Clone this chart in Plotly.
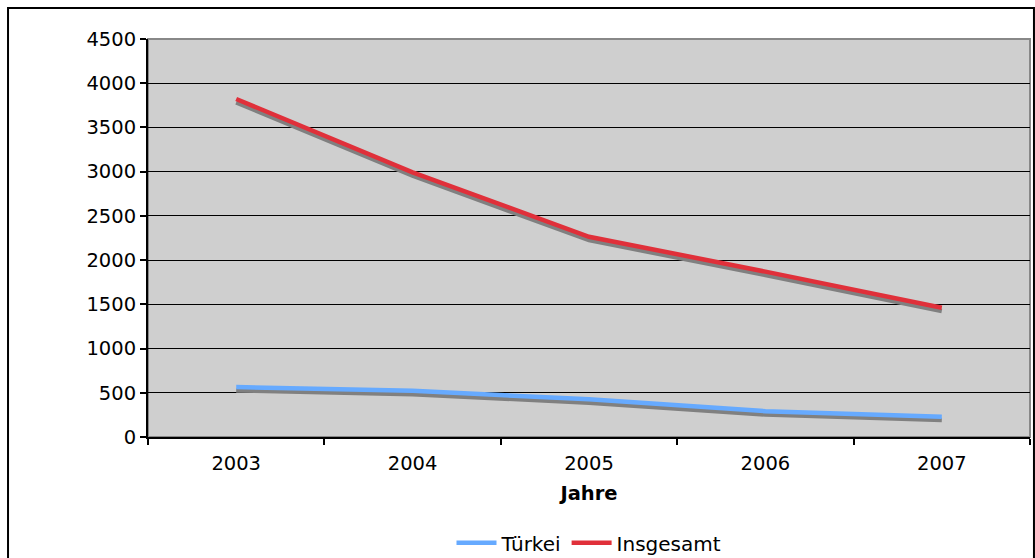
import plotly.graph_objects as go

years = ["2003", "2004", "2005", "2006", "2007"]
tuerkei = [565, 522, 426, 292, 230]
insgesamt = [3822, 2992, 2264, 1870, 1462]
y_ticks = [0, 500, 1000, 1500, 2000, 2500, 3000, 3500, 4000, 4500]

SHADOW = 38  # shadow offset (data units)
FONT = "DejaVu Sans, Verdana, sans-serif"

fig = go.Figure()
for name, vals, color in [("Türkei", tuerkei, "#66aaff"), ("Insgesamt", insgesamt, "#e0303a")]:
    fig.add_trace(go.Scatter(x=years, y=[v - SHADOW for v in vals], mode="lines",
                             line=dict(color="#808080", width=4.5), showlegend=False,
                             hoverinfo="skip"))
for name, vals, color in [("Türkei", tuerkei, "#66aaff"), ("Insgesamt", insgesamt, "#e0303a")]:
    fig.add_trace(go.Scatter(x=years, y=vals, mode="lines", name=name,
                             line=dict(color=color, width=4.5)))

fig.update_layout(
    width=1035, height=558,
    margin=dict(l=148, r=5, t=39, b=121, autoexpand=False),
    paper_bgcolor="white", plot_bgcolor="#cfcfcf",
    font=dict(family=FONT, size=19.5, color="black"),
    showlegend=True,
    legend=dict(orientation="h", x=0.5, xanchor="center", y=-0.266, yanchor="middle",
                font=dict(size=20), itemwidth=40, tracegroupgap=0, bgcolor="rgba(0,0,0,0)"),
    shapes=[
        dict(type="rect", xref="paper", yref="paper", x0=0, x1=1, y0=0, y1=1,
             line=dict(color="#888888", width=2), layer="below"),
        dict(type="rect", xref="paper", yref="paper", x0=-0.1587, x1=1.0045, y0=-0.31, y1=1.0779,
             line=dict(color="black", width=2), layer="above"),
    ],
)
fig.update_xaxes(type="category", tickson="boundaries", ticks="outside", ticklen=6,
                 tickcolor="black", tickwidth=1.5, showline=True, linecolor="black", linewidth=2,
                 showgrid=False, tickfont=dict(size=19.5), range=[-0.5, 4.5],
                 ticklabelstandoff=8,
                 title=dict(text="<b>Jahre</b>", font=dict(size=19.5), standoff=12))
fig.update_yaxes(range=[0, 4500], tickvals=y_ticks, ticks="outside", ticklen=6,
                 tickcolor="black", tickwidth=1.5, showline=True, linecolor="black", linewidth=2,
                 showgrid=True, gridcolor="black", gridwidth=1.3, zeroline=False,
                 tickfont=dict(size=19.5))

fig.write_html("out.html", config={"displayModeBar": False},
               post_script="document.body.style.margin='0';document.body.style.overflow='hidden';")
